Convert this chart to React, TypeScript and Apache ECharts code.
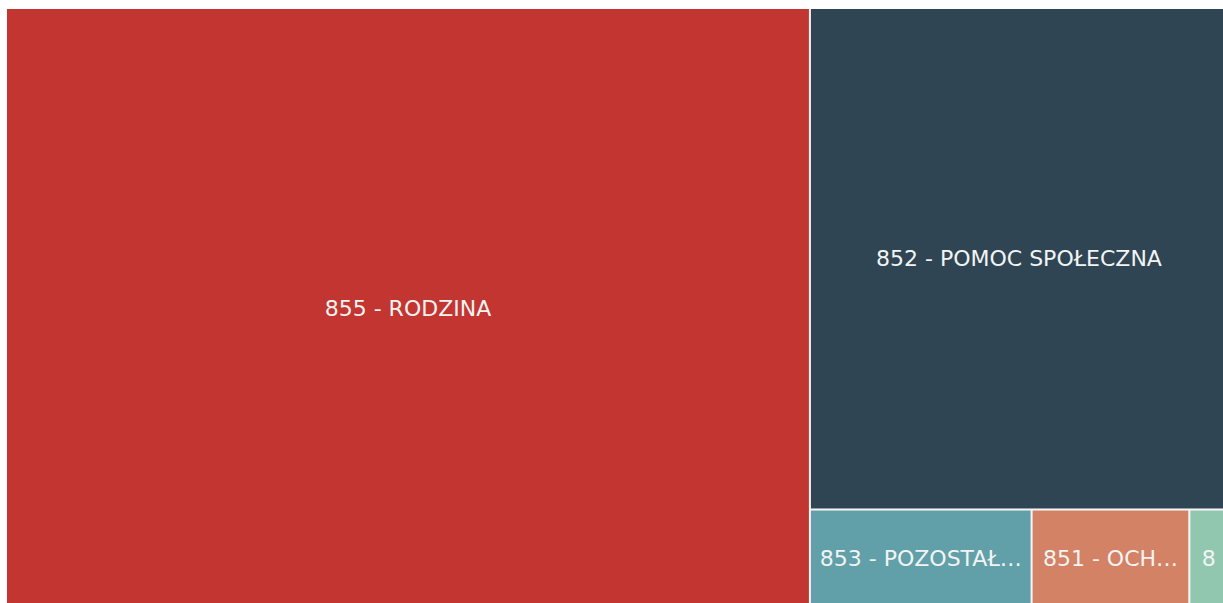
import React, { useEffect, useRef } from "react";
import * as echarts from "echarts";

const names = [
  "855 - RODZINA",
  "852 - POMOC SPOŁECZNA",
  "853 - POZOSTAŁE ZADANIA W ZAKRESIE POLITYKI SPOŁECZNEJ",
  "851 - OCHRONA ZDROWIA",
  "854 - EDUKACYJNA OPIEKA WYCHOWAWCZA",
];
const values = [658, 286, 29.8, 21.2, 5.2];
const colors = ["#c23531", "#2f4554", "#61a0a8", "#d48265", "#91c7ae"];

export default function App() {
  const ref = useRef<HTMLDivElement>(null);
  useEffect(() => {
    if (!ref.current) return;
    const chart = echarts.init(ref.current, null, { renderer: "svg" });
    chart.setOption({
      animation: false,
      series: [
        {
          type: "treemap",
          left: 7,
          top: 9,
          width: 1220,
          height: 598,
          roam: false,
          nodeClick: false,
          breadcrumb: { show: false },
          label: {
            show: true,
            position: "inside",
            color: "#f2f4f4",
            fontSize: 22,
            fontFamily: "'DejaVu Sans', sans-serif",
            overflow: "truncate",
            ellipsis: "…",
          },
          levels: [
            { itemStyle: { borderColor: "#f4f4f4", borderWidth: 0, gapWidth: 2 } },
            { itemStyle: { borderWidth: 0, gapWidth: 0 } },
          ],
          data: names.map((n, i) => ({
            name: n,
            value: values[i],
            itemStyle: { color: colors[i] },
          })),
        },
      ],
    });
    return () => chart.dispose();
  }, []);
  return (
    <div
      ref={ref}
      style={{ position: "fixed", left: 0, top: 0, width: 1223, height: 603, background: "#fff" }}
    />
  );
}
